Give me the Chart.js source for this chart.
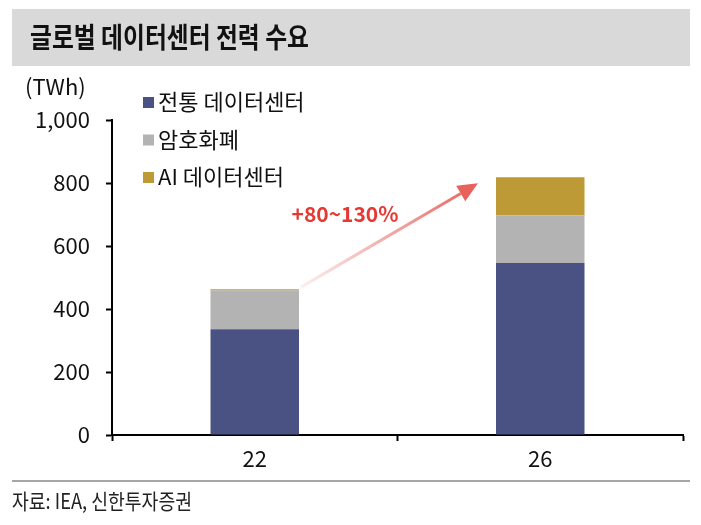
<!DOCTYPE html>
<html>
<head>
<meta charset="utf-8">
<script src="https://cdn.jsdelivr.net/npm/chart.js@4"></script>
<style>
  body { margin: 0; background: #fff; font-family: 'Noto Sans CJK KR', sans-serif; }
  #wrap { position: relative; width: 701px; height: 525px; }
  #title { position: absolute; left: 12px; top: 9px; width: 678px; height: 57px; background: #d9d9d9;
           line-height: 57px; box-sizing: border-box; color: #111; }
  #title span { position: absolute; left: 18px; top: -1px; font-size: 28px; font-weight: bold;
                transform: scaleX(0.85); transform-origin: left center; white-space: nowrap; }
  #foot-line { position: absolute; left: 12px; top: 480px; width: 678px; height: 2px; background: #a6a6a6; }
  #foot { position: absolute; left: 12px; top: 485px; font-size: 21px; color: #222;
          transform: scaleX(0.87); transform-origin: left center; white-space: nowrap; }
  canvas { position: absolute; left: 0; top: 0; }
</style>
</head>
<body>
<div id="wrap">
  <canvas id="c" width="701" height="525"></canvas>
  <div id="title"><span>글로벌 데이터센터 전력 수요</span></div>
  <div id="foot-line"></div>
  <div id="foot">자료: IEA, 신한투자증권</div>
</div>
<script>
document.addEventListener('DOMContentLoaded', () => {
    const years = ['22', '26'];
    const legacy = [336, 546];
    const crypto = [123, 152];
    const ai = [4, 120];
    const seriesNames = ['전통 데이터센터', '암호화폐', 'AI 데이터센터'];
    const colors = ['#4a5283', '#b3b3b3', '#bd9a36'];
    const growthLabel = '+80~130%';
    const font = "'Noto Sans CJK KR', sans-serif";

    const overlay = {
        id: 'overlay',
        afterDraw(chart) {
            const ctx = chart.ctx;
            const x = chart.scales.x, y = chart.scales.y;
            ctx.save();
            // unit
            ctx.fillStyle = '#111';
            ctx.font = '22px ' + font;
            ctx.textAlign = 'left';
            ctx.textBaseline = 'middle';
            ctx.fillText('(TWh)', 25, 87);
            // legend
            seriesNames.forEach((name, i) => {
                const cy = 102 + i * 37.5;
                ctx.fillStyle = colors[i];
                ctx.fillRect(143, cy - 5, 11, 11);
                ctx.fillStyle = '#111';
                ctx.fillText(name, 158, cy);
            });
            // growth arrow between the bar tops
            const meta0 = chart.getDatasetMeta(0).data;
            const half = meta0[0].width / 2;
            const x0 = x.getPixelForValue(0) + half + 2;
            const y0 = y.getPixelForValue(legacy[0] + crypto[0] + ai[0]) - 2;
            const x1 = x.getPixelForValue(1) - half - 18;
            const y1 = y.getPixelForValue(legacy[1] + crypto[1] + ai[1]) + 6;
            const ang = Math.atan2(y1 - y0, x1 - x0);
            const grad = ctx.createLinearGradient(x0, y0, x1, y1);
            grad.addColorStop(0, 'rgba(232,98,92,0.1)');
            grad.addColorStop(1, 'rgba(232,98,92,1)');
            const hl = 20;
            const bx = x1 - hl * Math.cos(ang), by = y1 - hl * Math.sin(ang);
            ctx.strokeStyle = grad;
            ctx.lineWidth = 3;
            ctx.beginPath();
            ctx.moveTo(x0, y0);
            ctx.lineTo(bx, by);
            ctx.stroke();
            ctx.fillStyle = '#e8625c';
            ctx.beginPath();
            ctx.moveTo(x1, y1);
            ctx.lineTo(bx + 9 * Math.sin(ang), by - 9 * Math.cos(ang));
            ctx.lineTo(bx - 9 * Math.sin(ang), by + 9 * Math.cos(ang));
            ctx.closePath();
            ctx.fill();
            ctx.fillStyle = '#e53a33';
            ctx.font = 'bold 21px ' + font;
            ctx.textAlign = 'center';
            ctx.fillText(growthLabel, 345, 214);
            ctx.restore();
        }
    };

    new Chart(document.getElementById('c'), {
        type: 'bar',
        data: {
            labels: years,
            datasets: [
                { label: seriesNames[0], data: legacy, backgroundColor: colors[0] },
                { label: seriesNames[1], data: crypto, backgroundColor: colors[1] },
                { label: seriesNames[2], data: ai, backgroundColor: colors[2] }
            ]
        },
        options: {
            responsive: false,
            animation: false,
            layout: { padding: { top: 120, right: 18, bottom: 45, left: 0 } },
            datasets: { bar: { barPercentage: 0.31, categoryPercentage: 1 } },
            plugins: { legend: { display: false }, tooltip: { enabled: false } },
            scales: {
                x: {
                    stacked: true,
                    grid: { offset: true, drawOnChartArea: false, tickLength: 6, tickColor: '#000', tickWidth: 2 },
                    border: { color: '#000', width: 2 },
                    ticks: { color: '#111', font: { family: font, size: 22 }, padding: 4 },
                    afterFit(s) { s.height = 45; }
                },
                y: {
                    stacked: true,
                    min: 0, max: 1000,
                    grid: { drawOnChartArea: false, tickLength: 6, tickColor: '#000', tickWidth: 2 },
                    border: { color: '#000', width: 2 },
                    ticks: { stepSize: 200, color: '#111', font: { family: font, size: 22 }, padding: 16 },
                    afterFit(s) { s.width = 112; }
                }
            }
        },
        plugins: [overlay]
    });
});
</script>
</body>
</html>
